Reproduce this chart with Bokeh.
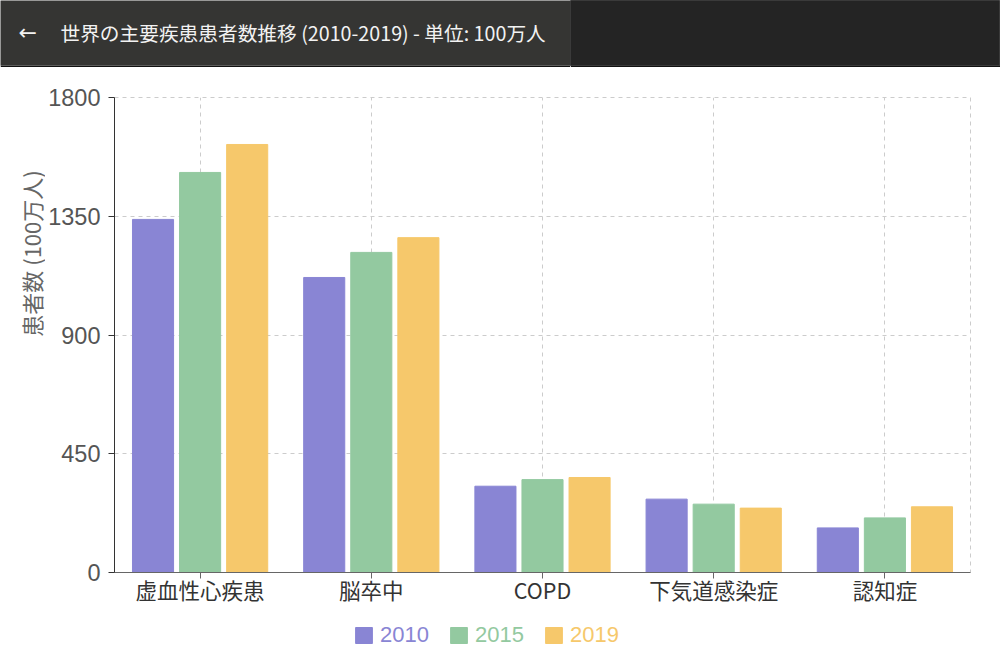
import numpy as np
from bokeh.plotting import figure
from bokeh.models import (ColumnDataSource, FactorRange, Range1d, FixedTicker,
                          Label, Legend, LegendItem)
from bokeh.transform import dodge
from bokeh.layouts import column, row
from bokeh.embed import file_html
from bokeh.resources import INLINE

# ---- data ----
title_text = "世界の主要疾患患者数推移 (2010-2019) - 単位: 100万人"
categories = ["虚血性心疾患", "脳卒中", "COPD", "下気道感染症", "認知症"]
years = ["2010", "2015", "2019"]
v2010 = [1338, 1118, 327, 278, 169]
v2015 = [1516, 1213, 352, 259, 207]
v2019 = [1622, 1269, 360, 244, 249]
y_ticks = [0, 450, 900, 1350, 1800]
y_label = "患者数 (100万人)"
colors = ["#8985d4", "#93c9a0", "#f6c86b"]

CJK = "Noto Sans CJK JP"


def blank(width, height, bg, border="white", bottom=0, outline=None):
    f = figure(width=width, height=height, output_backend="svg", toolbar_location=None,
               x_range=Range1d(0, 1), y_range=Range1d(0, 1),
               x_axis_type=None, y_axis_type=None,
               min_border_left=0, min_border_right=0, min_border_top=0,
               min_border_bottom=bottom,
               background_fill_color=bg, border_fill_color=border,
               outline_line_color=outline)
    f.grid.visible = False
    return f


# ---- header ----
hl = blank(570, 67, "#353533", border="#111111", bottom=2)
hl.add_layout(Label(x=18, y=33, x_units="screen", y_units="screen", text="←",
                    text_color="#f2f2f2", text_font_size="22px", text_baseline="middle",
                    text_font="DejaVu Sans"))
hl.add_layout(Label(x=60, y=33, x_units="screen", y_units="screen", text=title_text,
                    text_color="#f2f2f2", text_font_size="19.7px", text_baseline="middle",
                    text_font=CJK))
hr = blank(430, 67, "#242424", border="#111111", bottom=2, outline="#3a3a3a")

# ---- y-axis title strip ----
ylab = blank(45, 545, "white")
ylab.add_layout(Label(x=30, y=319, x_units="screen", y_units="screen", text=y_label,
                      angle=np.pi / 2, text_align="center", text_baseline="middle",
                      text_font_size="22px", text_color="#666666", text_font=CJK))

# ---- main chart ----
src = ColumnDataSource(dict(cat=categories, y2010=v2010, y2015=v2015, y2019=v2019))

p = figure(x_range=FactorRange(*categories, range_padding=0), y_range=Range1d(0, 1800),
           width=955, height=545, output_backend="svg", toolbar_location=None,
           min_border_left=68, min_border_right=30, min_border_top=30, min_border_bottom=40,
           background_fill_color="white", border_fill_color="white",
           outline_line_color="#cccccc", outline_line_dash="4 4")

offsets = [-0.275, 0.0, 0.275]
cols = ["y2010", "y2015", "y2019"]
for col, off, c in zip(cols, offsets, colors):
    p.vbar(x=dodge("cat", off, range=p.x_range), top=col, width=0.24, source=src,
           fill_color=c, line_color=c, line_width=1)

# axes
p.yaxis.ticker = FixedTicker(ticks=y_ticks)
p.yaxis.axis_line_color = "#333333"
p.yaxis.major_tick_line_color = "#333333"
p.yaxis.major_tick_out = 6
p.yaxis.major_tick_in = 0
p.yaxis.minor_tick_line_color = None
p.yaxis.major_label_text_font_size = "23.5px"
p.yaxis.major_label_text_color = "#555555"
p.yaxis.major_label_text_font = "Liberation Sans"
p.yaxis.major_label_standoff = 8

p.xaxis.axis_line_color = "#666666"
p.xaxis.major_tick_line_color = "#666666"
p.xaxis.major_tick_out = 6
p.xaxis.major_tick_in = 0
p.xaxis.major_label_text_font_size = "21.5px"
p.xaxis.major_label_text_color = "#333333"
p.xaxis.major_label_text_font = CJK
p.xaxis.major_label_standoff = -5

# grid
for g in (p.xgrid, p.ygrid):
    g.grid_line_color = "#cccccc"
    g.grid_line_dash = "4 4"
    g.grid_line_width = 1
p.ygrid.ticker = FixedTicker(ticks=y_ticks)

# ---- legend strip (one legend per series so text colours match) ----
foot = blank(1000, 46, "white")
leg_x = [353, 448, 543]
for yr, c, lx in zip(years, colors, leg_x):
    # swatch renderer kept outside the strip's visible range; only its legend glyph shows
    r = foot.quad(left=[5], right=[6], bottom=[5], top=[6], fill_color=c, line_color=c)
    leg = Legend(items=[LegendItem(label=yr, renderers=[r])], location=(lx, 10),
                 orientation="horizontal", padding=0, margin=0, spacing=0,
                 glyph_width=21, glyph_height=20, label_standoff=6, label_height=20,
                 border_line_color=None, background_fill_alpha=0,
                 label_text_color=c, label_text_font_size="22px",
                 label_text_font="Liberation Sans")
    foot.add_layout(leg)

layout = column(row(hl, hr), row(ylab, p), foot)
open("out.html", "w").write(file_html(layout, INLINE))
